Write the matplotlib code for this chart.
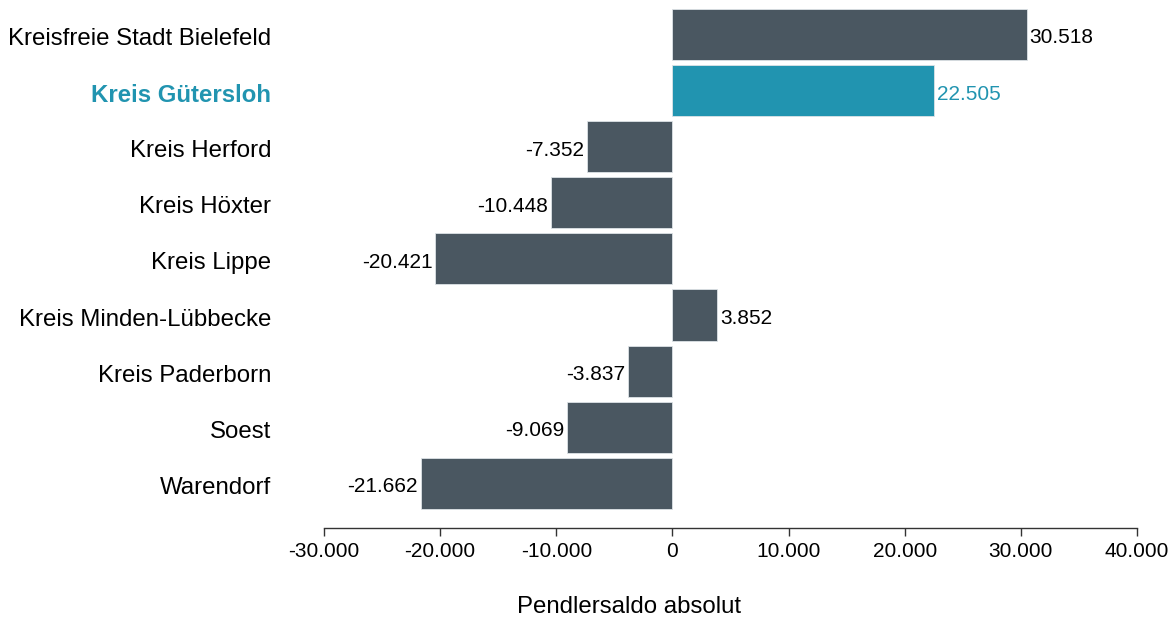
import numpy as np
import matplotlib.pyplot as plt
import matplotlib.transforms as mtransforms
from matplotlib.ticker import FuncFormatter

plt.rcParams['font.family'] = ['Liberation Sans', 'DejaVu Sans']

regions = ['Kreisfreie Stadt Bielefeld', 'Kreis Gütersloh', 'Kreis Herford',
           'Kreis Höxter', 'Kreis Lippe', 'Kreis Minden-Lübbecke',
           'Kreis Paderborn', 'Soest', 'Warendorf']
saldo = [30518, 22505, -7352, -10448, -20421, 3852, -3837, -9069, -21662]
highlight = 'Kreis Gütersloh'

dark = '#4a5761'
teal = '#2194b0'


def de_fmt(v):
    # German thousand separator
    s = '{:,.0f}'.format(v).replace(',', '.')
    return s


def main():
    fig = plt.figure(figsize=(11.72, 6.2), dpi=100)
    W, H = 1172., 620.
    ax = fig.add_axes([324 / W, (H - 528) / H, (1137 - 324) / W, (528 - 9) / H])

    ypos = np.arange(len(regions))
    cols = [teal if r == highlight else dark for r in regions]
    ax.barh(ypos, saldo, height=0.91, color=cols, edgecolor='#dde3e6', linewidth=0.6)

    for y, v, r, c in zip(ypos, saldo, regions, cols):
        tc = teal if r == highlight else 'black'
        if v >= 0:
            ax.annotate(de_fmt(v), (v, y), xytext=(2, -1), textcoords='offset points',
                        ha='left', va='center_baseline', fontsize=15, color=tc)
        else:
            ax.annotate(de_fmt(v), (v, y), xytext=(-2, -1), textcoords='offset points',
                        ha='right', va='center_baseline', fontsize=15, color=tc)

    ax.set_xlim(-30000, 40000)
    ax.set_ylim(8.797, -0.455)
    ax.set_xticks(np.arange(-30000, 40001, 10000))
    ax.xaxis.set_major_formatter(FuncFormatter(lambda v, p: de_fmt(v)))
    ax.tick_params(axis='x', length=6, width=1, color='#333333', labelsize=15, pad=4)

    ax.set_yticks(ypos)
    ax.set_yticklabels(regions, va='center_baseline')
    ax.tick_params(axis='y', length=0, pad=38, labelsize=17.3)
    shift = mtransforms.ScaledTranslation(0, -1.5 / 72, fig.dpi_scale_trans)
    for lbl, r in zip(ax.get_yticklabels(), regions):
        lbl.set_transform(lbl.get_transform() + shift)
        if r == highlight:
            lbl.set_color(teal)
            lbl.set_fontweight('bold')

    for s in ['top', 'right', 'left']:
        ax.spines[s].set_visible(False)
    ax.spines['bottom'].set_color('#333333')
    ax.spines['bottom'].set_linewidth(1)

    fig.text(629 / W, 1 - 607 / H, 'Pendlersaldo absolut', ha='center', va='center', fontsize=17.3)

    fig.savefig('out.png', dpi=100)


if __name__ == "__main__":
    main()
